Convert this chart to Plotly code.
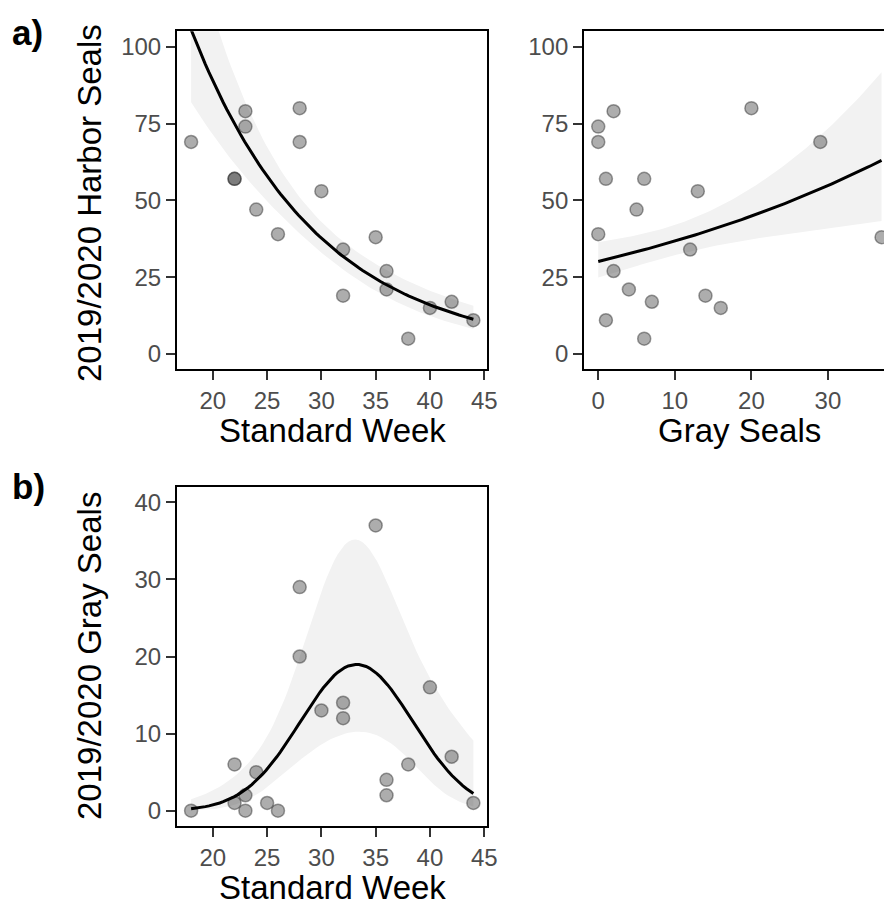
import math
import numpy as np
import plotly.graph_objects as go

# ---------------- data ----------------
week   = [18, 22, 22, 23, 23, 24, 25, 26, 28, 28, 30, 32, 32, 35, 36, 36, 38, 40, 42, 44]
harbor = [69, 57, 57, 79, 74, 47, None, 39, 80, 69, 53, 34, 19, 38, 27, 21, 5, 15, 17, 11]
gray   = [0, 6, 1, 2, 0, 5, 1, 0, 20, 29, 13, 12, 14, 37, 2, 4, 6, 16, 7, 1]

week_ticks = [20, 25, 30, 35, 40, 45]
harbor_ticks = [0, 25, 50, 75, 100]
gray_ticks_x = [0, 10, 20, 30]
gray_ticks_y = [0, 10, 20, 30, 40]

W = 894
H = 904


# ---------------- negative-binomial GLM (log link), like geom_smooth / model predictions ----------------
def irls(X, y, var_fun, iters=300):
    beta = np.zeros(X.shape[1])
    beta[0] = math.log(max(y.mean(), 1e-3))
    for _ in range(iters):
        eta = X @ beta
        mu = np.exp(eta)
        w = mu ** 2 / var_fun(mu)
        z = eta + (y - mu) / mu
        A = X.T @ (X * w[:, None])
        nb = np.linalg.solve(A, X.T @ (w * z))
        done = np.max(np.abs(nb - beta)) < 1e-11
        beta = nb
        if done:
            break
    mu = np.exp(X @ beta)
    w = mu ** 2 / var_fun(mu)
    A = X.T @ (X * w[:, None])
    return beta, np.linalg.inv(A), mu


def nb_loglik(y, mu, th):
    tot = 0.0
    for yi, m in zip(y, mu):
        tot += (math.lgamma(yi + th) - math.lgamma(th) - math.lgamma(yi + 1)
                + th * math.log(th / (th + m)))
        if yi > 0:
            tot += yi * math.log(m / (th + m))
    return tot


def nb_fit(X, y):
    y = np.asarray(y, float)
    th = 5.0
    for _ in range(40):
        beta, cov, mu = irls(X, y, lambda m, t=th: m + m ** 2 / t)
        lo, hi = math.log(0.05), math.log(1e5)
        for _ in range(90):
            a = lo + (hi - lo) * 0.382
            b = lo + (hi - lo) * 0.618
            if nb_loglik(y, mu, math.exp(a)) > nb_loglik(y, mu, math.exp(b)):
                hi = b
            else:
                lo = a
        th = math.exp((lo + hi) / 2)
    return beta, cov


def band(Xg, beta, cov):
    eta = Xg @ beta
    se = np.sqrt(np.einsum("ij,jk,ik->i", Xg, cov, Xg))
    return np.exp(eta), np.exp(eta - 1.96 * se), np.exp(eta + 1.96 * se)


def std(v, ref):
    ref = np.asarray(ref, float)
    return (np.asarray(v, float) - ref.mean()) / ref.std()


# harbor seals ~ week + gray seals (complete cases)
hw = np.array([w for w, h in zip(week, harbor) if h is not None], float)
hh = np.array([h for h in harbor if h is not None], float)
hg = np.array([g for g, h in zip(gray, harbor) if h is not None], float)
bh, ch = nb_fit(np.column_stack([np.ones_like(hw), std(hw, hw), std(hg, hg)]), hh)

ws = np.linspace(hw.min(), hw.max(), 80)
Xa = np.column_stack([np.ones_like(ws), std(ws, hw), std(np.full_like(ws, hg.mean()), hg)])
curve_a = (ws,) + band(Xa, bh, ch)

gs = np.linspace(hg.min(), hg.max(), 80)
Xb = np.column_stack([np.ones_like(gs), std(np.full_like(gs, hw.mean()), hw), std(gs, hg)])
curve_b = (gs,) + band(Xb, bh, ch)

# gray seals ~ poly(week, 2)
wk = np.asarray(week, float)
bc, cc = nb_fit(np.column_stack([np.ones_like(wk), std(wk, wk), std(wk, wk) ** 2]), gray)
ws3 = np.linspace(wk.min(), wk.max(), 80)
Xc3 = np.column_stack([np.ones_like(ws3), std(ws3, wk), std(ws3, wk) ** 2])
curve_c = (ws3,) + band(Xc3, bc, cc)

panels = [
    dict(x=hw, y=hh, xa="x", ya="y", c=curve_a),
    dict(x=hg, y=hh, xa="x2", ya="y2", c=curve_b),
    dict(x=week, y=gray, xa="x3", ya="y3", c=curve_c),
]

fig = go.Figure()
for pnl in panels:
    xs, yf, lo, hi = pnl["c"]
    fig.add_trace(go.Scatter(x=np.concatenate([xs, xs[::-1]]), y=np.concatenate([hi, lo[::-1]]),
                             fill="toself", fillcolor="#F2F2F2", line=dict(width=0),
                             mode="lines", hoverinfo="skip", showlegend=False,
                             xaxis=pnl["xa"], yaxis=pnl["ya"]))
    fig.add_trace(go.Scatter(x=pnl["x"], y=pnl["y"], mode="markers",
                             marker=dict(size=13, color="rgba(60,60,60,0.42)",
                                         line=dict(width=1.5, color="rgba(40,40,40,0.45)")),
                             showlegend=False, xaxis=pnl["xa"], yaxis=pnl["ya"]))
    fig.add_trace(go.Scatter(x=xs, y=yf, mode="lines", line=dict(color="black", width=3),
                             showlegend=False, xaxis=pnl["xa"], yaxis=pnl["ya"]))


def px_x(p):
    return p / W


def px_y(p):
    return 1 - p / H


font_family = "Liberation Sans, Arial, Helvetica, sans-serif"
tick_font = dict(family=font_family, size=24, color="#4D4D4D")
common = dict(showgrid=False, zeroline=False, showline=True, linecolor="black", linewidth=2,
              ticks="outside", ticklen=9, tickwidth=2, tickcolor="#333333", tickfont=tick_font)

fig.update_layout(
    width=W, height=H, autosize=False,
    margin=dict(l=0, r=0, t=0, b=0),
    paper_bgcolor="white", plot_bgcolor="white",
    font=dict(family=font_family),
    xaxis=dict(domain=[px_x(179), px_x(493)], range=[16.7, 45.3], tickvals=week_ticks,
               mirror=True, anchor="y", **common),
    yaxis=dict(domain=[px_y(369.4), px_y(31.3)], range=[-5, 105], tickvals=harbor_ticks,
               mirror=True, anchor="x", **common),
    xaxis2=dict(domain=[px_x(590.7), 1.0], range=[-1.85, 37.32], tickvals=gray_ticks_x,
                mirror=True, anchor="y2", **common),
    yaxis2=dict(domain=[px_y(369.4), px_y(31.3)], range=[-5, 105], tickvals=harbor_ticks,
                mirror=False, anchor="x2", **common),
    xaxis3=dict(domain=[px_x(179), px_x(493)], range=[16.7, 45.3], tickvals=week_ticks,
                mirror=True, anchor="y3", **common),
    yaxis3=dict(domain=[px_y(826.1), px_y(486.9)], range=[-2, 42], tickvals=gray_ticks_y,
                mirror=True, anchor="x3", **common),
)

title_font = dict(family=font_family, size=33, color="black")
ann = [
    dict(text="Standard Week", x=px_x(336), y=px_y(430), font=title_font),
    dict(text="Gray Seals", x=px_x(748), y=px_y(430), font=title_font),
    dict(text="Standard Week", x=px_x(336), y=px_y(887), font=title_font, height=26),
    dict(text="2019/2020 Harbor Seals", x=px_x(90), y=px_y(203), font=title_font, textangle=-90),
    dict(text="2019/2020 Gray Seals", x=px_x(90), y=px_y(656), font=title_font, textangle=-90),
]
for a in ann:
    fig.add_annotation(xref="paper", yref="paper", xanchor="center", yanchor="middle",
                       showarrow=False, **a)
for lab, yy in [("a)", 33), ("b)", 486)]:
    fig.add_annotation(text="<b>%s</b>" % lab, xref="paper", yref="paper", x=px_x(10), y=px_y(yy),
                       xanchor="left", yanchor="middle", showarrow=False,
                       font=dict(family=font_family, size=35, color="black"))

fig.write_html("out.html", config={"displayModeBar": False},
               post_script="document.body.style.margin='0px';")
